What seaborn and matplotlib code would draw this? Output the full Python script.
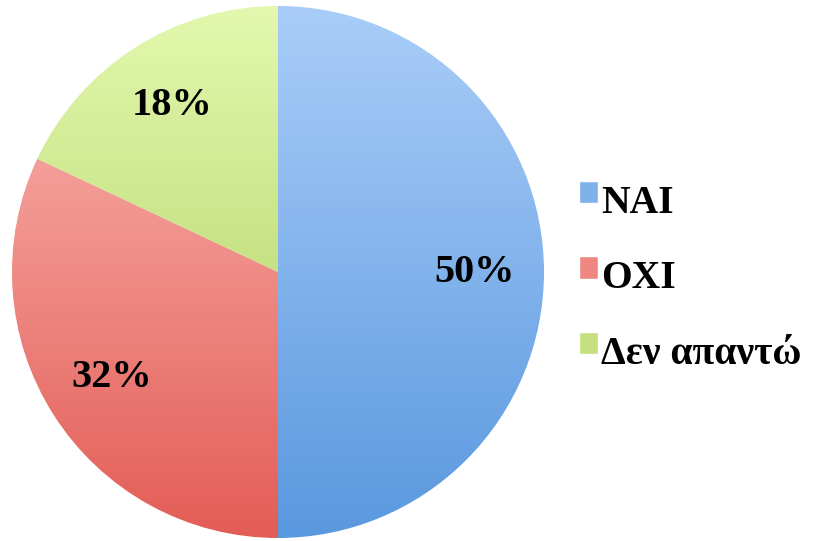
import numpy as np
import matplotlib
matplotlib.use("Agg")
import matplotlib.pyplot as plt
import seaborn as sns
from matplotlib.colors import LinearSegmentedColormap
from matplotlib.patches import Rectangle
from matplotlib.legend_handler import HandlerPatch

sns.set_theme(style="white")
plt.rcParams['font.family'] = ['Liberation Serif', 'DejaVu Serif']

labels = ['NAI', 'OXI', 'Δεν απαντώ']
values = [50, 32, 18]
# gradient colours per slice (top, bottom)
top_colors = ['#a9cdf8', '#fbb9b5', '#e3f8ae']
bottom_colors = ['#5a98df', '#e35d56', '#a8cb58']
mid_colors = ['#7fb2eb', '#ee8681', '#c4e07f']

fig = plt.figure(figsize=(8.21, 5.41), dpi=100)
ax = fig.add_axes([12 / 821, 3 / 541, 532 / 821, 532 / 541])

wedges, texts, autotexts = ax.pie(
    values, colors=mid_colors, startangle=90, counterclock=False,
    autopct='%1.0f%%', pctdistance=0.74, radius=1,
    textprops=dict(fontsize=29, fontweight='bold', color='black'),
)

# vertical gradient clipped to each wedge
grad = np.linspace(0, 1, 256).reshape(-1, 1)
for w, c1, c2 in zip(wedges, top_colors, bottom_colors):
    cmap = LinearSegmentedColormap.from_list('g', [c1, c2])
    im = ax.imshow(grad, cmap=cmap, extent=(-1, 1, -1, 1), origin='upper',
                   aspect='auto', zorder=1.5)
    im.set_clip_path(w)
for t in autotexts:
    t.set_zorder(3)

ax.set_xlim(-1, 1)
ax.set_ylim(-1, 1)
ax.set_aspect('equal')
ax.axis('off')


def raised_square(legend, orig_handle, xdescent, ydescent, width, height, fontsize):
    # legend squares sit a bit above the text centre, as in the original
    return Rectangle((-xdescent, -ydescent + 5), width, height)


fig.legend(wedges, labels, loc='center left',
           bbox_to_anchor=(559 / 821, 1 - 279 / 541),
           frameon=False, prop=dict(size=28.5, weight='bold'),
           labelcolor='black',
           handlelength=0.48, handleheight=0.48, handletextpad=0.08,
           labelspacing=0.98, borderpad=0,
           handler_map={w: HandlerPatch(patch_func=raised_square) for w in wedges})

fig.savefig('out.png', dpi=100)
